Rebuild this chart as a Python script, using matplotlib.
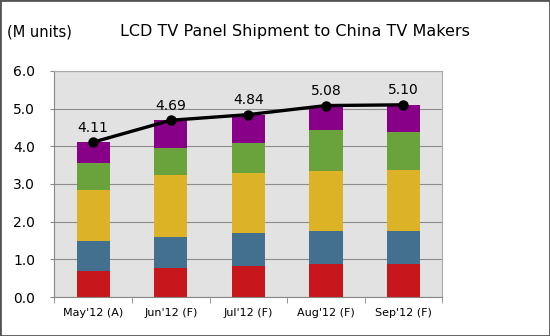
import numpy as np
import matplotlib.pyplot as plt
from matplotlib.patches import Rectangle

months = ["May'12 (A)", "Jun'12 (F)", "Jul'12 (F)", "Aug'12 (F)", "Sep'12 (F)"]
# stacked segments, bottom to top (M units)
seg_red = [0.68, 0.77, 0.82, 0.87, 0.87]
seg_blue = [0.81, 0.83, 0.87, 0.87, 0.89]
seg_yellow = [1.36, 1.65, 1.61, 1.60, 1.61]
seg_green = [0.70, 0.71, 0.80, 1.10, 1.01]
seg_purple = [0.56, 0.73, 0.74, 0.64, 0.72]
totals = [4.11, 4.69, 4.84, 5.08, 5.10]

colors = ['#c8171c', '#44708f', '#dcb226', '#6aa23c', '#870087']

fig = plt.figure(figsize=(5.5, 3.36), dpi=100)
fig.patches.append(Rectangle((0, 0), 1, 1, transform=fig.transFigure,
                             fill=False, edgecolor='#555555', linewidth=2))
ax = fig.add_axes([0.099, 0.116, 0.705, 0.673])
ax.set_facecolor('#e2e2e2')

x = np.arange(len(months))
bottom = np.zeros(len(months))
for seg, c in zip([seg_red, seg_blue, seg_yellow, seg_green, seg_purple], colors):
    ax.bar(x, seg, width=0.43, bottom=bottom, color=c, zorder=2)
    bottom += np.array(seg)

ax.plot(x, totals, color='black', linewidth=2.4, marker='o', markersize=6.5, zorder=3)
for xi, t in zip(x, totals):
    ax.text(xi, t + 0.2, f'{t:.2f}', ha='center', va='bottom', fontsize=10)

ax.set_ylim(0, 6)
ax.set_xlim(-0.5, len(months) - 0.5)
ax.set_yticks(np.arange(0, 6.1, 1.0))
ax.set_yticklabels([f'{v:.1f}' for v in np.arange(0, 6.1, 1.0)], fontsize=10)
ax.yaxis.grid(True, color='#8c8c8c', linewidth=0.8, zorder=0)
ax.set_axisbelow(True)

ax.set_xticks(x)
ax.set_xticklabels(months, fontsize=8)
ax.tick_params(axis='x', which='major', length=0, pad=8)
ax.set_xticks(np.arange(-0.5, len(months), 1.0), minor=True)
ax.tick_params(axis='x', which='minor', length=4, color='#888888')
ax.tick_params(axis='y', length=3, color='#888888', pad=11)

for side in ['top', 'right']:
    ax.spines[side].set_color('#aaaaaa')
for side in ['left', 'bottom']:
    ax.spines[side].set_color('#888888')

fig.text(0.012, 0.905, '(M units)', fontsize=10.5, va='center')
fig.text(0.537, 0.905, 'LCD TV Panel Shipment to China TV Makers', fontsize=11.5,
         ha='center', va='center')

fig.savefig('out.png', dpi=100)
